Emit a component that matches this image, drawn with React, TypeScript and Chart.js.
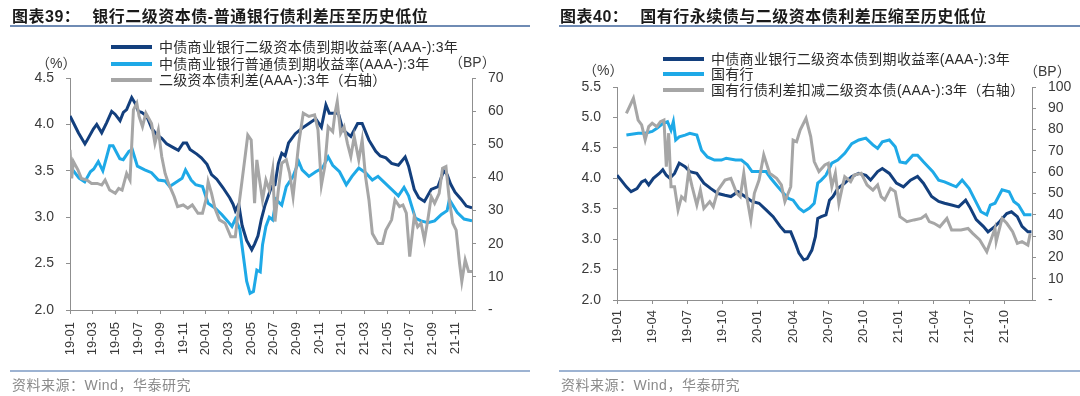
import React, { useEffect, useRef } from 'react';
import { Chart, registerables } from 'chart.js';

Chart.register(...registerables);

const NAVY = '#133f7d';
const SKY = '#1ea9e7';
const GREY = '#a6a6a6';
const AXIS = '#8f8f8f';
const TICK_TEXT = '#3a3a3a';
const LATIN = "'Liberation Sans', Arial, 'Noto Sans CJK SC', sans-serif";

// ---------- 图表39 ----------
const L_TITLE_NO = '图表39：';
const L_TITLE = '银行二级资本债-普通银行债利差压至历史低位';
const L_LEGEND = [
  '中债商业银行二级资本债到期收益率(AAA-):3年',
  '中债商业银行普通债到期收益率(AAA-):3年',
  '二级资本债利差(AAA-):3年（右轴）',
];
const L_X_TICKS = ['19-01', '19-03', '19-05', '19-07', '19-09', '19-11', '20-01', '20-03', '20-05', '20-07', '20-09', '20-11', '21-01', '21-03', '21-05', '21-07', '21-09', '21-11'];
const L_Y_TICKS = ['2.0', '2.5', '3.0', '3.5', '4.0', '4.5'];
const L_Y2_TICKS = ['-', '10', '20', '30', '40', '50', '60', '70'];

// [months since 2019-01, value]
const L_NAVY: [number, number][] = [
  [0, 4.09], [0.29, 4.02], [0.74, 3.91], [1.32, 3.79], [1.47, 3.82], [2.06, 3.95], [2.36, 4.0], [2.8, 3.91], [3.24, 4.02],
  [3.68, 4.14], [3.98, 4.11], [4.42, 4.04], [4.71, 4.13], [5.0, 4.16], [5.45, 4.29], [5.74, 4.23], [6.04, 4.14], [6.33, 4.13],
  [6.77, 4.09], [7.21, 3.96], [7.66, 3.89], [8.1, 3.85], [8.54, 3.79], [9.13, 3.75], [9.57, 3.72], [10.0, 3.8], [10.3, 3.8],
  [10.6, 3.73], [11.2, 3.68], [11.6, 3.64], [12.1, 3.57], [12.5, 3.46], [12.96, 3.41], [13.5, 3.32], [14.1, 3.21], [14.4, 3.14],
  [14.6, 3.07], [14.9, 3.14], [15.2, 2.91], [15.6, 2.75], [16.05, 2.65], [16.3, 2.71], [16.6, 2.8], [16.9, 2.98], [17.2, 3.12],
  [17.8, 3.33], [18.1, 3.35], [18.4, 3.58], [18.7, 3.69], [19.0, 3.66], [19.3, 3.8], [19.9, 3.9], [20.5, 3.96], [21.1, 4.01],
  [21.7, 4.06], [22.2, 3.97], [22.6, 4.21], [22.9, 4.12], [23.7, 4.12], [24.1, 3.94], [24.8, 3.87], [25.4, 4.01], [25.8, 4.01],
  [26.4, 3.83], [27.0, 3.71], [27.4, 3.66], [27.9, 3.64], [28.4, 3.58], [29.0, 3.56], [29.6, 3.65], [29.9, 3.55], [30.4, 3.3],
  [30.8, 3.21], [31.3, 3.17], [31.9, 3.3], [32.5, 3.33], [33.0, 3.5], [33.3, 3.46], [33.6, 3.36], [34.0, 3.27], [34.5, 3.2],
  [35.0, 3.12], [35.5, 3.1],
];
const L_SKY: [number, number][] = [
  [0, 3.54], [0.3, 3.5], [0.8, 3.42], [1.3, 3.38], [1.8, 3.49], [2.1, 3.52], [2.5, 3.6], [2.9, 3.5], [3.5, 3.77], [3.8, 3.77],
  [4.1, 3.7], [4.4, 3.63], [4.7, 3.62], [5.2, 3.71], [5.5, 3.73], [5.95, 3.55], [6.6, 3.51], [7.2, 3.48], [7.8, 3.4],
  [8.4, 3.39], [8.8, 3.33], [9.3, 3.37], [9.9, 3.42], [10.2, 3.51], [10.7, 3.4], [11.1, 3.35], [11.7, 3.33], [12.2, 3.15],
  [12.8, 3.1], [13.4, 3.03], [13.9, 2.96], [14.3, 2.9], [14.6, 2.98], [15.0, 2.87], [15.3, 2.59], [15.6, 2.31], [15.9, 2.18],
  [16.2, 2.2], [16.5, 2.43], [16.8, 2.41], [17.0, 2.7], [17.3, 2.9], [17.6, 3.0], [17.9, 2.97], [18.2, 3.19], [18.7, 3.13],
  [19.1, 3.33], [19.7, 3.44], [20.2, 3.6], [20.5, 3.51], [21.1, 3.44], [21.7, 3.49], [22.3, 3.53], [22.8, 3.65], [23.2, 3.56],
  [23.8, 3.49], [24.4, 3.35], [24.9, 3.44], [25.5, 3.53], [26.1, 3.48], [26.7, 3.4], [27.2, 3.44], [27.8, 3.37], [28.4, 3.3],
  [29.0, 3.23], [29.5, 3.32], [29.9, 3.23], [30.5, 2.99], [31.0, 2.96], [31.6, 2.94], [32.2, 2.96], [32.8, 3.03], [33.3, 3.07],
  [33.5, 3.19], [34.2, 3.05], [34.8, 2.98], [35.5, 2.96],
];
const L_GREY: [number, number][] = [
  [0, 48.3], [0.15, 39.7], [0.3, 44.8], [0.7, 42.3], [1.0, 39.7], [1.5, 39.2], [1.9, 38.2], [2.4, 38.2], [2.8, 37.7],
  [3.1, 39.2], [3.5, 36.2], [4.0, 35.2], [4.3, 36.7], [4.6, 36.2], [5.0, 41.2], [5.3, 39.2], [5.6, 60.4], [5.9, 62.4],
  [6.1, 58.4], [6.4, 55.3], [6.7, 59.4], [7.2, 56.3], [7.5, 50.3], [7.8, 54.3], [8.1, 46.3], [8.4, 41.2], [8.7, 38.2],
  [9.2, 34.2], [9.5, 31.2], [10.0, 31.7], [10.4, 30.7], [10.8, 31.7], [11.3, 29.2], [11.7, 29.2], [12.0, 33.2], [12.2, 38.7],
  [12.5, 35.2], [12.8, 30.7], [13.2, 27.2], [13.7, 26.2], [14.2, 22.1], [14.6, 22.1], [14.9, 31.2], [15.2, 39.2], [15.5, 47.3],
  [15.7, 52.8], [16.0, 51.3], [16.3, 32.2], [16.5, 45.3], [16.7, 40.2], [17.0, 33.2], [17.3, 39.2], [17.6, 36.2], [17.9, 42.3],
  [18.1, 26.7], [18.4, 36.2], [18.7, 44.3], [19.1, 45.3], [19.4, 41.2], [19.7, 34.2], [20.2, 50.3], [20.6, 59.4], [21.1, 58.4],
  [21.6, 58.9], [21.9, 54.3], [22.2, 37.7], [22.5, 43.3], [22.8, 55.3], [23.2, 53.8], [23.4, 59.4], [23.6, 62.9], [23.9, 53.3],
  [24.2, 55.3], [24.5, 50.3], [24.8, 46.3], [25.1, 52.3], [25.5, 45.3], [25.8, 51.3], [26.1, 40.2], [26.4, 33.2], [26.7, 23.1],
  [27.2, 20.1], [27.6, 20.1], [27.9, 24.1], [28.4, 27.2], [28.7, 33.2], [29.1, 31.2], [29.4, 31.7], [29.7, 29.2], [30.0, 16.1],
  [30.4, 28.2], [30.7, 25.1], [31.0, 26.2], [31.3, 21.1], [31.6, 27.2], [31.9, 34.2], [32.2, 32.2], [32.6, 35.2], [32.9, 42.8],
  [33.2, 43.3], [33.5, 33.2], [33.8, 26.2], [34.1, 24.1], [34.4, 14.1], [34.6, 8.6], [34.9, 15.1], [35.2, 11.6], [35.5, 11.6],
];

// ---------- 图表40 ----------
const R_TITLE_NO = '图表40：';
const R_TITLE = '国有行永续债与二级资本债利差压缩至历史低位';
const R_LEGEND = [
  '中债商业银行二级资本债到期收益率(AAA-):3年',
  '国有行',
  '国有行债利差扣减二级资本债(AAA-):3年（右轴）',
];
const R_X_TICKS = ['19-01', '19-04', '19-07', '19-10', '20-01', '20-04', '20-07', '20-10', '21-01', '21-04', '21-07', '21-10'];
const R_Y_TICKS = ['2.0', '2.5', '3.0', '3.5', '4.0', '4.5', '5.0', '5.5'];
const R_Y2_TICKS = ['-', '10', '20', '30', '40', '50', '60', '70', '80', '90', '100'];

const R_NAVY: [number, number][] = [
  [0, 4.05], [0.35, 3.97], [0.8, 3.86], [1.2, 3.78], [1.7, 3.83], [2.1, 3.94], [2.4, 3.97], [2.7, 3.89], [3.1, 4.0],
  [3.6, 4.08], [3.9, 4.14], [4.2, 4.05], [4.5, 4.0], [4.9, 4.08], [5.3, 4.25], [5.8, 4.19], [6.2, 4.11], [6.8, 4.08],
  [7.4, 3.92], [8.0, 3.83], [8.6, 3.75], [9.2, 3.72], [9.7, 3.7], [10.3, 3.78], [10.9, 3.7], [11.5, 3.62], [12.1, 3.59],
  [12.7, 3.48], [13.3, 3.37], [13.9, 3.21], [14.3, 3.12], [14.8, 3.12], [15.2, 2.93], [15.5, 2.77], [15.9, 2.66], [16.2, 2.68],
  [16.6, 2.82], [16.9, 3.04], [17.1, 3.34], [17.4, 3.37], [17.8, 3.4], [18.1, 3.64], [18.4, 3.7], [18.8, 3.83], [19.4, 3.92],
  [20.0, 4.03], [20.6, 4.08], [21.2, 4.05], [21.6, 3.97], [22.2, 4.11], [22.6, 4.16], [23.2, 4.08], [23.8, 3.92], [24.4, 3.86],
  [25.0, 3.97], [25.6, 4.03], [26.1, 3.92], [26.8, 3.7], [27.4, 3.62], [27.9, 3.59], [28.5, 3.56], [29.1, 3.53], [29.7, 3.64],
  [30.1, 3.51], [30.6, 3.32], [31.2, 3.21], [31.6, 3.12], [32.2, 3.21], [32.6, 3.29], [33.2, 3.42], [33.6, 3.45], [34.1, 3.37],
  [34.5, 3.21], [35.0, 3.12], [35.3, 3.12],
];
const R_SKY: [number, number][] = [
  [0.8, 4.71], [1.8, 4.74], [2.4, 4.74], [3.0, 4.77], [3.4, 4.82], [3.9, 4.9], [4.3, 4.93], [4.6, 4.79], [4.8, 4.93],
  [5.0, 4.63], [5.3, 4.68], [5.8, 4.71], [6.2, 4.74], [6.8, 4.71], [7.2, 4.46], [7.7, 4.35], [8.3, 4.3], [8.9, 4.3],
  [9.3, 4.33], [10.1, 4.3], [10.6, 4.3], [11.1, 4.22], [11.5, 4.11], [12.1, 4.11], [12.7, 4.11], [13.1, 4.0], [13.7, 3.86],
  [14.2, 3.75], [14.6, 3.67], [15.0, 3.64], [15.5, 3.51], [15.9, 3.45], [16.4, 3.51], [16.8, 3.59], [17.1, 3.92], [17.4, 3.97],
  [17.8, 4.05], [18.3, 4.25], [18.8, 4.3], [19.4, 4.41], [20.0, 4.57], [20.6, 4.63], [21.2, 4.66], [21.8, 4.55], [22.2, 4.49],
  [22.6, 4.6], [23.2, 4.63], [23.7, 4.52], [24.1, 4.27], [24.6, 4.25], [25.2, 4.38], [25.6, 4.38], [26.1, 4.27], [26.9, 4.11],
  [27.4, 3.97], [27.9, 3.94], [28.5, 3.89], [28.9, 3.86], [29.4, 3.97], [30.0, 3.83], [30.5, 3.64], [31.0, 3.45], [31.5, 3.4],
  [31.8, 3.56], [32.2, 3.59], [32.8, 3.81], [33.4, 3.78], [33.8, 3.62], [34.2, 3.56], [34.7, 3.4], [35.3, 3.4],
];
const R_GREY: [number, number][] = [
  [0.8, 87.6], [1.4, 94.7], [1.8, 84.5], [2.1, 82.2], [2.4, 75.1], [2.7, 81.4], [3.0, 83.0], [3.4, 81.4], [3.7, 83.7],
  [4.0, 84.5], [4.2, 62.6], [4.4, 78.3], [4.6, 53.2], [4.9, 53.2], [5.2, 42.3], [5.5, 48.5], [5.8, 47.0], [6.1, 60.3],
  [6.4, 53.2], [6.8, 44.6], [7.1, 51.6], [7.4, 43.0], [7.9, 46.2], [8.2, 43.8], [8.6, 51.6], [9.2, 56.3], [9.7, 57.1],
  [10.2, 50.1], [10.5, 48.5], [10.8, 59.5], [11.1, 47.0], [11.4, 37.6], [11.7, 50.1], [12.1, 56.3], [12.5, 68.1], [13.0, 59.5],
  [13.6, 57.1], [14.0, 54.0], [14.3, 46.2], [14.8, 53.2], [15.0, 75.1], [15.3, 74.3], [15.6, 79.8], [16.1, 85.3], [16.5, 76.7],
  [16.8, 65.0], [17.2, 60.3], [17.7, 63.4], [18.0, 64.2], [18.3, 53.2], [18.6, 59.5], [18.9, 45.4], [19.2, 53.2], [19.4, 57.9],
  [19.9, 55.6], [20.2, 58.7], [20.8, 59.5], [21.3, 54.0], [21.8, 51.6], [22.2, 54.0], [22.5, 48.5], [22.8, 47.0], [23.3, 52.4],
  [23.7, 50.9], [24.1, 39.1], [24.7, 36.8], [25.3, 37.6], [25.9, 38.3], [26.3, 39.9], [26.6, 36.8], [27.0, 36.0], [27.5, 34.4],
  [28.1, 38.3], [28.5, 32.9], [29.3, 32.9], [29.9, 33.6], [30.3, 31.3], [30.9, 28.2], [31.5, 22.7], [31.9, 29.0], [32.2, 33.6],
  [32.3, 27.4], [32.8, 38.3], [33.2, 36.0], [33.7, 32.1], [34.1, 26.6], [34.5, 27.4], [35.0, 25.8], [35.2, 31.3],
];

type Pts = [number, number][];
type Spec = {
  canvasLeft: number;
  padTop: number;
  leftW: number;
  rightW: number;
  xH: number;
  xMax: number;
  xStep: number;
  xPad: number;
  yMin: number;
  yMax: number;
  y2Max: number;
  xTicks: string[];
  yTicks: string[];
  y2Ticks: string[];
  navy: Pts;
  sky: Pts;
  grey: Pts;
};

const toXY = (p: Pts) => p.map(([x, y]) => ({ x, y }));

function Panel({ spec }: { spec: Spec }) {
  const ref = useRef<HTMLCanvasElement>(null);
  useEffect(() => {
    const tickFont = { family: LATIN, size: 14 };
    const chart = new Chart(ref.current!, {
      type: 'line',
      data: {
        datasets: [
          { data: toXY(spec.navy), borderColor: NAVY, borderWidth: 3, pointRadius: 0, yAxisID: 'y', order: 3, tension: 0 },
          { data: toXY(spec.sky), borderColor: SKY, borderWidth: 3, pointRadius: 0, yAxisID: 'y', order: 2, tension: 0 },
          { data: toXY(spec.grey), borderColor: GREY, borderWidth: 3, pointRadius: 0, yAxisID: 'y1', order: 1, tension: 0 },
        ],
      },
      options: {
        animation: false,
        responsive: false,
        devicePixelRatio: 1,
        layout: { padding: { top: spec.padTop, left: 0, right: 0, bottom: 0 } },
        plugins: { legend: { display: false }, tooltip: { enabled: false } },
        scales: {
          x: {
            type: 'linear',
            min: 0,
            max: spec.xMax,
            grid: { drawOnChartArea: false, tickLength: 4, color: AXIS },
            border: { color: AXIS },
            ticks: {
              stepSize: spec.xStep,
              includeBounds: false,
              autoSkip: false,
              minRotation: 90,
              maxRotation: 90,
              padding: spec.xPad,
              color: TICK_TEXT,
              font: { family: LATIN, size: 13 },
              callback: (_v: any, i: number) => spec.xTicks[i] ?? '',
            },
            afterFit: (s: any) => { s.height = spec.xH; },
          },
          y: {
            position: 'left',
            min: spec.yMin,
            max: spec.yMax,
            grid: { drawOnChartArea: false, tickLength: 4, color: AXIS },
            border: { color: AXIS },
            ticks: {
              stepSize: 0.5,
              padding: 12,
              color: TICK_TEXT,
              font: tickFont,
              callback: (_v: any, i: number) => spec.yTicks[i] ?? '',
            },
            afterFit: (s: any) => { s.width = spec.leftW; },
          },
          y1: {
            position: 'right',
            min: 0,
            max: spec.y2Max,
            grid: { drawOnChartArea: false, tickLength: 4, color: AXIS },
            border: { color: AXIS },
            ticks: {
              stepSize: 10,
              padding: 12,
              color: TICK_TEXT,
              font: tickFont,
              callback: (_v: any, i: number) => spec.y2Ticks[i] ?? '',
            },
            afterFit: (s: any) => { s.width = spec.rightW; },
          },
        },
      },
    } as any);
    return () => chart.destroy();
  }, []);
  return (
    <canvas
      ref={ref}
      width={540}
      height={396}
      style={{ position: 'absolute', left: spec.canvasLeft, top: 0, width: 540, height: 396 }}
    />
  );
}

const txt = (left: number, cy: number, size: number, extra: React.CSSProperties = {}): React.CSSProperties => ({
  position: 'absolute',
  left,
  top: cy - 10,
  height: 20,
  lineHeight: '20px',
  fontSize: size,
  whiteSpace: 'nowrap',
  fontFamily: LATIN,
  ...extra,
});

function Legend({ items, swatchLeft, rows }: { items: string[]; swatchLeft: number; rows: number[] }) {
  const colors = [NAVY, SKY, GREY];
  return (
    <>
      {items.map((t, i) => (
        <React.Fragment key={i}>
          <div style={{ position: 'absolute', left: swatchLeft, top: rows[i] - 2, width: 41, height: 4, background: colors[i] }} />
          <div style={txt(swatchLeft + 48, rows[i], 14, { color: '#2b2b2b', letterSpacing: 0.3 })}>{t}</div>
        </React.Fragment>
      ))}
    </>
  );
}

export default function App() {
  const leftSpec: Spec = {
    canvasLeft: 0, padTop: 78, leftW: 70, rightW: 68, xH: 86, xMax: 35.5, xStep: 2, xPad: 8,
    yMin: 2, yMax: 4.5, y2Max: 70, xTicks: L_X_TICKS, yTicks: L_Y_TICKS, y2Ticks: L_Y2_TICKS,
    navy: L_NAVY, sky: L_SKY, grey: L_GREY,
  };
  const rightSpec: Spec = {
    canvasLeft: 540, padTop: 87, leftW: 77, rightW: 48, xH: 96, xMax: 35.35, xStep: 3, xPad: 6,
    yMin: 2, yMax: 5.5, y2Max: 100, xTicks: R_X_TICKS, yTicks: R_Y_TICKS, y2Ticks: R_Y2_TICKS,
    navy: R_NAVY, sky: R_SKY, grey: R_GREY,
  };
  const titleStyle = (left: number): React.CSSProperties => ({
    position: 'absolute', left, top: 5, height: 24, lineHeight: '24px', fontSize: 16, fontWeight: 700,
    color: '#1a1a1a', whiteSpace: 'nowrap', letterSpacing: 0.5, fontFamily: LATIN,
  });
  return (
    <div style={{ position: 'absolute', left: 0, top: 0, width: 1080, height: 396, background: '#fff', overflow: 'hidden' }}>
      <Panel spec={leftSpec} />
      <Panel spec={rightSpec} />

      <div style={titleStyle(12)}>{L_TITLE_NO}<span style={{ marginLeft: 12 }}>{L_TITLE}</span></div>
      <div style={titleStyle(560)}>{R_TITLE_NO}<span style={{ marginLeft: 12 }}>{R_TITLE}</span></div>
      <div style={{ position: 'absolute', left: 10, top: 25, width: 520, height: 2, background: '#6f8bb4' }} />
      <div style={{ position: 'absolute', left: 559, top: 25, width: 521, height: 2, background: '#6f8bb4' }} />

      <Legend items={L_LEGEND} swatchLeft={111} rows={[47, 63.5, 80]} />
      <Legend items={R_LEGEND} swatchLeft={663} rows={[58.5, 74, 89.5]} />

      <div style={txt(36, 63, 14, { color: TICK_TEXT })}>（%）</div>
      <div style={txt(449, 62, 14, { color: TICK_TEXT })}>（BP）</div>
      <div style={txt(583, 70, 14, { color: TICK_TEXT })}>（%）</div>
      <div style={txt(1024, 71, 14, { color: TICK_TEXT })}>（BP）</div>

      <div style={{ position: 'absolute', left: 10, top: 370, width: 520, height: 1.5, background: '#9db3d2' }} />
      <div style={{ position: 'absolute', left: 559, top: 370, width: 521, height: 1.5, background: '#9db3d2' }} />
      <div style={txt(12, 385, 14, { color: '#8a8a8a', letterSpacing: 0.5 })}>资料来源：Wind，华泰研究</div>
      <div style={txt(561, 385, 14, { color: '#8a8a8a', letterSpacing: 0.5 })}>资料来源：Wind，华泰研究</div>
    </div>
  );
}
